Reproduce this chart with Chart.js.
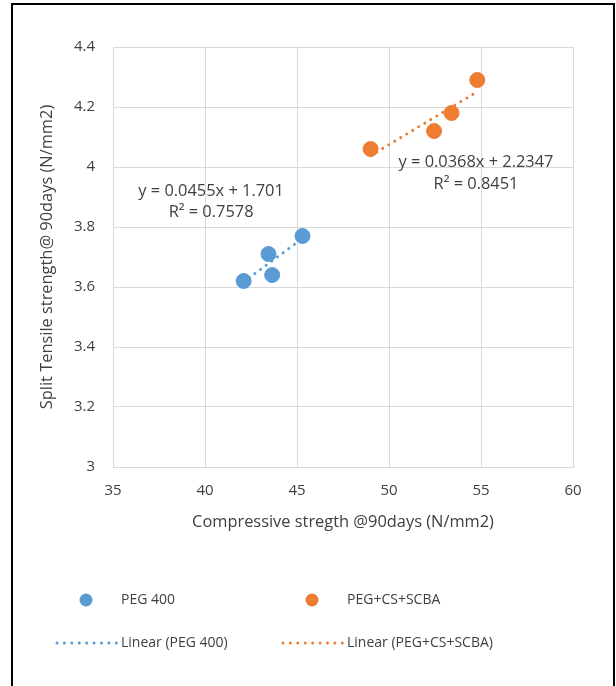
<!DOCTYPE html>
<html>
<head>
<meta charset="utf-8">
<script src="https://cdn.jsdelivr.net/npm/chart.js@4.4.1/dist/chart.umd.min.js"></script>
<style>
  html, body { margin: 0; padding: 0; background: #ffffff; }
  #wrap { position: relative; width: 616px; height: 686px; }
</style>
</head>
<body>
<div id="wrap"><canvas id="c" width="616" height="686"></canvas></div>
<script>
// ---- data ----
const pegX = [42.1, 43.45, 43.65, 45.3];
const pegY = [3.62, 3.71, 3.64, 3.77];
const mixX = [49.0, 52.45, 53.4, 54.8];
const mixY = [4.06, 4.12, 4.18, 4.29];
const pegTrendX = [42.1, 45.3];
const pegTrendY = [3.617, 3.762];
const mixTrendX = [49.0, 54.8];
const mixTrendY = [4.038, 4.251];
const seriesNames = ['PEG 400', 'PEG+CS+SCBA'];
const trendNames = ['Linear (PEG 400)', 'Linear (PEG+CS+SCBA)'];
const pegEquation = ['y = 0.0455x + 1.701', 'R² = 0.7578'];
const mixEquation = ['y = 0.0368x + 2.2347', 'R² = 0.8451'];
const xTickValues = [35, 40, 45, 50, 55, 60];
const yTickValues = [3, 3.2, 3.4, 3.6, 3.8, 4, 4.2, 4.4];
const xTitle = 'Compressive stregth @90days (N/mm2)';
const yTitle = 'Split Tensile strength@ 90days (N/mm2)';

const BLUE = '#5B9BD5';
const ORANGE = '#ED7D31';
const TXT = '#404040';
const FONT = '"Open Sans", "Liberation Sans", sans-serif';
const FS_TITLE = 16.4;
const FS_TICK = 15;
const FS_EQ = 16.4;
const FS_LEG = 14;

const toPts = (xs, ys) => xs.map((x, i) => ({ x: x, y: ys[i] }));

const frameAndExtras = {
  id: 'frameAndExtras',
  afterDraw(chart) {
    const ctx = chart.ctx;
    const xs = chart.scales.x, ys = chart.scales.y;
    ctx.save();
    // outer frame
    ctx.strokeStyle = '#000000';
    ctx.lineWidth = 2;
    ctx.strokeRect(12, 4, 602, 720);
    // equations
    ctx.fillStyle = TXT;
    ctx.font = FS_EQ + 'px ' + FONT;
    ctx.textAlign = 'center';
    ctx.textBaseline = 'middle';
    const px = xs.getPixelForValue(40.33), py = ys.getPixelForValue(3.92);
    ctx.fillText(pegEquation[0], px, py);
    ctx.fillText(pegEquation[1], px, py + 21);
    const mx = xs.getPixelForValue(54.73), my = ys.getPixelForValue(4.017);
    ctx.fillText(mixEquation[0], mx, my);
    ctx.fillText(mixEquation[1], mx, my + 22);
    // legend
    ctx.font = FS_LEG + 'px ' + FONT;
    ctx.textAlign = 'left';
    const rows = [600, 643];
    const cols = [86, 312];
    const textX = [121, 347];
    const colors = [BLUE, ORANGE];
    for (let i = 0; i < 2; i++) {
      ctx.fillStyle = colors[i];
      ctx.beginPath();
      ctx.arc(cols[i], rows[0], 6.5, 0, Math.PI * 2);
      ctx.fill();
      ctx.fillStyle = TXT;
      ctx.fillText(seriesNames[i], textX[i], rows[0]);
      // dotted sample
      ctx.strokeStyle = colors[i];
      ctx.lineWidth = 3;
      ctx.lineCap = 'round';
      ctx.setLineDash([0.01, 7.4]);
      ctx.beginPath();
      ctx.moveTo(textX[i] - 64, rows[1]);
      ctx.lineTo(textX[i] - 4, rows[1]);
      ctx.stroke();
      ctx.setLineDash([]);
      ctx.fillStyle = TXT;
      ctx.fillText(trendNames[i], textX[i], rows[1]);
    }
    ctx.restore();
  }
};

new Chart(document.getElementById('c'), {
  type: 'scatter',
  data: {
    datasets: [
      {
        label: trendNames[0], type: 'line', data: toPts(pegTrendX, pegTrendY),
        borderColor: BLUE, borderWidth: 3, borderDash: [0.01, 7], borderCapStyle: 'round',
        pointRadius: 0, fill: false, showLine: true, order: 2
      },
      {
        label: trendNames[1], type: 'line', data: toPts(mixTrendX, mixTrendY),
        borderColor: ORANGE, borderWidth: 3, borderDash: [0.01, 7], borderCapStyle: 'round',
        pointRadius: 0, fill: false, showLine: true, order: 2
      },
      {
        label: seriesNames[0], data: toPts(pegX, pegY),
        backgroundColor: BLUE, borderColor: BLUE, pointRadius: 7.5, pointHoverRadius: 7.5, order: 1
      },
      {
        label: seriesNames[1], data: toPts(mixX, mixY),
        backgroundColor: ORANGE, borderColor: ORANGE, pointRadius: 7.5, pointHoverRadius: 7.5, order: 1
      }
    ]
  },
  options: {
    responsive: false,
    animation: false,
    events: [],
    layout: { padding: { left: 14, top: 47, right: 43, bottom: 150 } },
    plugins: { legend: { display: false }, tooltip: { enabled: false } },
    scales: {
      x: {
        type: 'linear', min: 35, max: 60,
        afterBuildTicks: (s) => { s.ticks = xTickValues.map(v => ({ value: v })); },
        afterFit: (s) => { s.height = 69; },
        grid: { color: '#d9d9d9', lineWidth: 1, drawTicks: false },
        border: { color: '#d9d9d9', width: 1 },
        ticks: { padding: 15, color: TXT, font: { family: FONT, size: FS_TICK }, callback: (v) => String(v) },
        title: { display: true, text: xTitle, color: TXT, font: { family: FONT, size: FS_TITLE }, padding: { top: 4, bottom: 4 } }
      },
      y: {
        type: 'linear', min: 3, max: 4.4,
        afterBuildTicks: (s) => { s.ticks = yTickValues.map(v => ({ value: v })); },
        afterFit: (s) => { s.width = 99; },
        grid: { color: '#d9d9d9', lineWidth: 1, drawTicks: false },
        border: { color: '#d9d9d9', width: 1 },
        ticks: { padding: 18, color: TXT, font: { family: FONT, size: FS_TICK }, callback: (v) => String(Math.round(v * 10) / 10) },
        title: { display: true, text: yTitle, color: TXT, font: { family: FONT, size: FS_TITLE }, padding: { top: 23, bottom: 4 } }
      }
    }
  },
  plugins: [frameAndExtras]
});
</script>
</body>
</html>
